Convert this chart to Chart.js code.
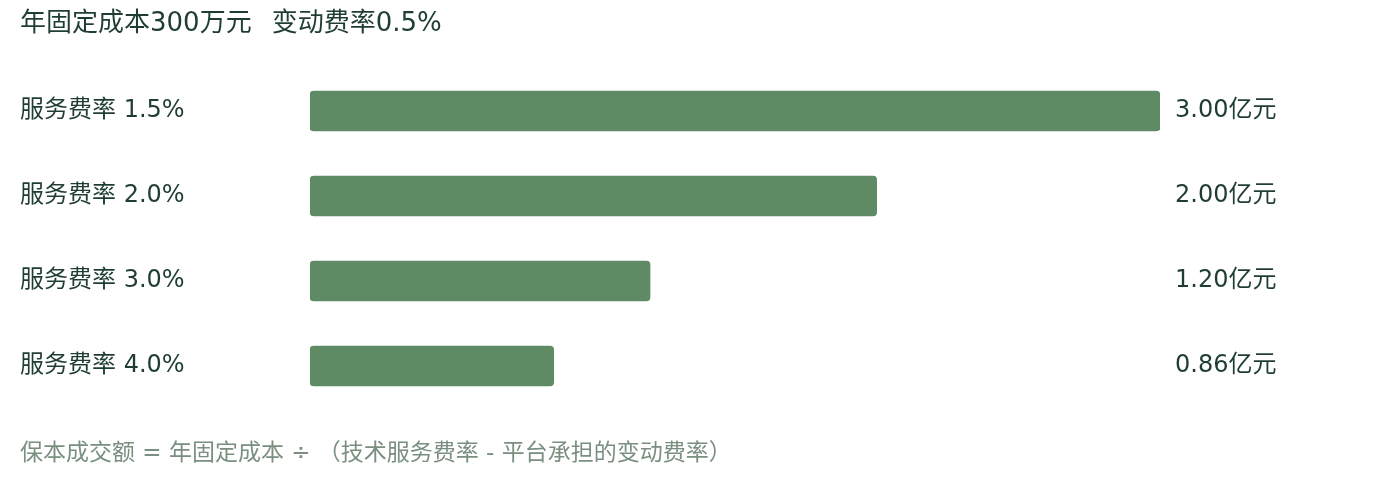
<!DOCTYPE html>
<html>
<head>
<meta charset="utf-8">
<script src="https://cdn.jsdelivr.net/npm/chart.js@4/dist/chart.umd.min.js"></script>
<style>
  html, body { margin: 0; padding: 0; background: #fff; }
  #wrap { position: relative; width: 1400px; height: 485px; }
  #title { position: absolute; left: 20px; top: 1px; font: 26px "DejaVu Sans", "Noto Sans CJK SC", sans-serif; color: #1f3d33; white-space: pre; }
  #title span { margin-left: 20px; }
  #note { position: absolute; left: 20px; top: 433px; font: 23px "DejaVu Sans", "Noto Sans CJK SC", sans-serif; color: #7a8f80; white-space: pre; }
</style>
</head>
<body>
<div id="wrap">
  <canvas id="chart" width="1400" height="485"></canvas>
  <div id="title">年固定成本300万元<span>变动费率0.5%</span></div>
  <div id="note">保本成交额 = 年固定成本 ÷ （技术服务费率 - 平台承担的变动费率）</div>
</div>
<script>
// 数据：保本成交额（亿元）
const rateLabels = ['服务费率 1.5%', '服务费率 2.0%', '服务费率 3.0%', '服务费率 4.0%'];
const breakEven = [3.00, 2.00, 1.20, 0.86];
const valueLabels = ['3.00亿元', '2.00亿元', '1.20亿元', '0.86亿元'];

const textColor = '#1f3d33';
const barColor = '#5e8a64';
const fontFamily = '"DejaVu Sans", "Noto Sans CJK SC", sans-serif';

const ctx = document.getElementById('chart').getContext('2d');
new Chart(ctx, {
  type: 'bar',
  data: {
    labels: rateLabels,
    datasets: [{
      data: breakEven,
      backgroundColor: barColor,
      borderRadius: 4,
      borderSkipped: false,
      barThickness: 40
    }]
  },
  options: {
    indexAxis: 'y',
    responsive: false,
    animation: false,
    layout: { padding: { left: 20, right: 0, top: 68.5, bottom: 76.5 } },
    plugins: { legend: { display: false }, tooltip: { enabled: false } },
    scales: {
      x: { min: 0, max: 3, display: false },
      y: {
        position: 'left',
        grid: { display: false },
        border: { display: false },
        ticks: { color: textColor, font: { family: fontFamily, size: 24 }, crossAlign: 'far', padding: 0 },
        afterFit: s => { s.width = 290; }
      },
      y2: {
        position: 'right',
        type: 'category',
        labels: valueLabels,
        grid: { display: false },
        border: { display: false },
        ticks: { color: textColor, font: { family: fontFamily, size: 24 }, crossAlign: 'near', padding: 7 },
        afterFit: s => { s.width = 240; }
      }
    }
  }
});
</script>
</body>
</html>
